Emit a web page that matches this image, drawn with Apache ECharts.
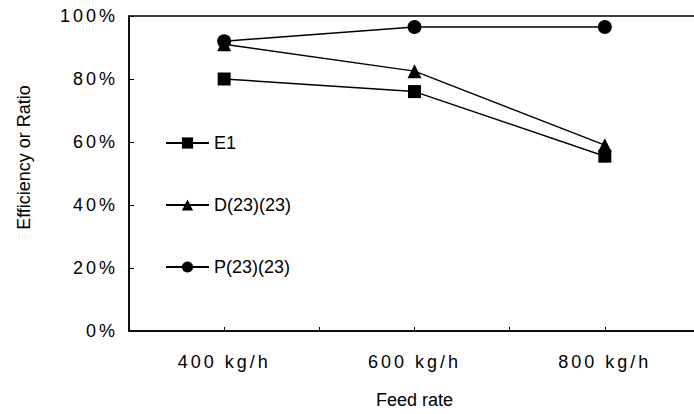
<!DOCTYPE html>
<html>
<head>
<meta charset="utf-8">
<script src="https://cdn.jsdelivr.net/npm/echarts@6/dist/echarts.min.js"></script>
<style>
html,body{margin:0;padding:0;background:#fff;}
#chart{width:694px;height:414px;}
</style>
</head>
<body>
<div id="chart"></div>
<script>
// Data
const feedRates = [400, 600, 800];
const feedRateLabels = ['400 kg/h', '600 kg/h', '800 kg/h'];
const e1 = [80, 76, 55.5];
const d2323 = [91, 82.5, 59];
const p2323 = [92, 96.5, 96.5];
const yTicks = ['0%', '20%', '40%', '60%', '80%', '100%'];

const font = '"Liberation Sans", Arial, sans-serif';
const chart = echarts.init(document.getElementById('chart'), null, {renderer: 'svg'});

function pairs(vals) { return feedRates.map((x, i) => [x, vals[i]]); }

const lineStyle = {color: '#000', width: 1.5};
chart.setOption({
  animation: false,
  backgroundColor: '#fff',
  grid: {left: 129, top: 16, width: 571, height: 315, show: true, borderColor: '#000', borderWidth: 1.5,
         containLabel: false, outerBoundsMode: 'none'},
  legend: {
    orient: 'vertical', left: 165, top: 134, padding: 0, itemWidth: 43, itemHeight: 14, itemGap: 44,
    textStyle: {fontFamily: font, fontSize: 18, color: '#000'},
    data: ['E1', 'D(23)(23)', 'P(23)(23)']
  },
  xAxis: {
    type: 'value', min: 300, max: 900, interval: 100,
    name: 'Feed rate', nameLocation: 'middle', nameGap: 60,
    nameTextStyle: {fontFamily: font, fontSize: 18, color: '#000'},
    axisLine: {show: true, lineStyle: {color: '#000', width: 1.5}},
    axisTick: {show: true, inside: true, length: 4, lineStyle: {color: '#000'}},
    splitLine: {show: false},
    axisLabel: {
      fontFamily: font, fontSize: 18, color: '#000', margin: 22,
      formatter: function (v) { const i = feedRates.indexOf(v); return i >= 0 ? feedRateLabels[i] : ''; }
    }
  },
  yAxis: {
    type: 'value', min: 0, max: 100, interval: 20,
    name: 'Efficiency or Ratio', nameLocation: 'middle', nameGap: 96,
    nameTextStyle: {fontFamily: font, fontSize: 18, color: '#000', padding: [0, 0, 0, 32]},
    axisLine: {show: true, lineStyle: {color: '#000', width: 1.5}},
    axisTick: {show: true, inside: true, length: 5, lineStyle: {color: '#000'}},
    splitLine: {show: false},
    axisLabel: {
      fontFamily: font, fontSize: 18, color: '#000', margin: 11,
      formatter: function (v) { return yTicks[Math.round(v / 20)]; }
    }
  },
  series: [
    {name: 'E1', type: 'line', data: pairs(e1), symbol: 'rect', symbolSize: 13,
     itemStyle: {color: '#000'}, lineStyle: lineStyle},
    {name: 'D(23)(23)', type: 'line', data: pairs(d2323), symbol: 'triangle', symbolSize: 14,
     itemStyle: {color: '#000'}, lineStyle: lineStyle},
    {name: 'P(23)(23)', type: 'line', data: pairs(p2323), symbol: 'circle', symbolSize: 14,
     itemStyle: {color: '#000'}, lineStyle: lineStyle}
  ]
});

function spaceTicks() {
  document.querySelectorAll('#chart svg text').forEach(function (t) {
    const s = t.textContent;
    if (/%$/.test(s) || /kg\/h$/.test(s)) t.setAttribute('letter-spacing', '3');
  });
}
spaceTicks();
chart.on('finished', spaceTicks);
setTimeout(spaceTicks, 50);
</script>
</body>
</html>
